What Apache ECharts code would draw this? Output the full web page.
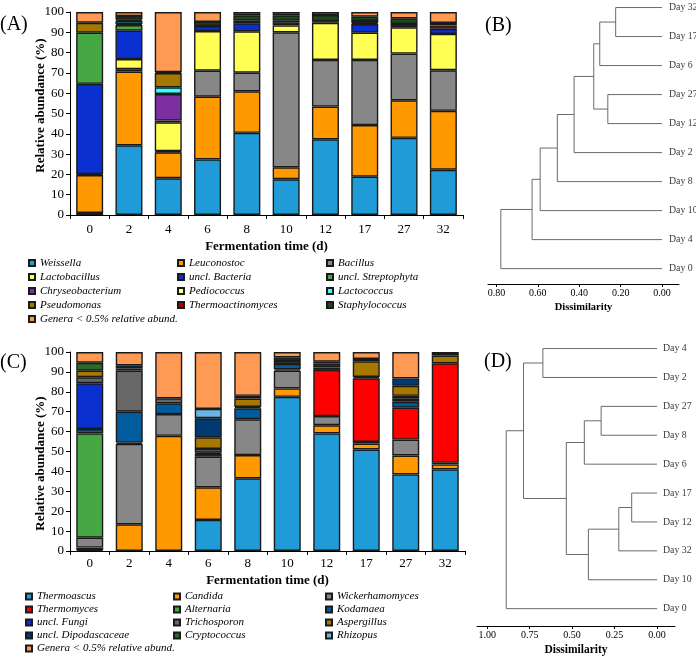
<!DOCTYPE html>
<html><head><meta charset="utf-8">
<script src="https://cdn.jsdelivr.net/npm/echarts@6/dist/echarts.min.js"></script>
<style>html,body{margin:0;padding:0;background:#fff}#c{width:696px;height:657px}</style>
</head><body><div id="c"></div>
<script>
// ---------- DATA ----------
const days = ['0','2','4','6','8','10','12','17','27','32'];
const yTicks = [0,10,20,30,40,50,60,70,80,90,100];

// (A) bacteria, relative abundance (%)
const weissella         = [1.0,34.3,18.1,27.4,40.5,17.6,37.3,18.9,38.0,22.3];
const leuconostoc       = [18.7,36.3,12.8,30.9,20.4,5.9,16.1,25.4,18.5,29.0];
const bacillus          = [0.4,1.2,0.5,12.8,9.2,66.5,23.0,32.1,23.0,20.0];
const lactobacillus     = [0,5.0,14.3,19.5,20.4,3.4,18.3,13.4,13.0,17.9];
const unclBacteria      = [44.5,14.0,0.8,2.5,3.9,1.5,0,4.3,1.6,2.5];
const unclStreptophyta  = [25.2,2.8,0,0,1.3,0.8,0,0.5,0,0];
const chryseobacterium  = [0,0,13.1,0,0,0,0,0,0,0];
const pediococcus       = [0,0.5,0,0,0,0,0,0,0,0];
const lactococcus       = [0,1.5,3.3,0,0,0,0,0,0,0];
const pseudomonas       = [4.9,0.6,7.0,0,0,0,0,0,0,0];
const thermoactinomyces = [0,0,0,0,0,0,0.8,1.0,0,1.7];
const staphylococcus    = [0,1.8,0.5,2.0,2.7,2.7,3.0,2.1,2.8,1.2];
const bacOther          = [5.3,2.0,29.6,4.9,1.6,1.6,1.5,2.3,3.1,5.4];

// (C) fungi, relative abundance (%)
const thermoascus       = [0.5,0,0,15.6,36.5,77.5,59.1,51.0,38.5,41.0];
const candida           = [1.2,13.4,57.9,16.4,11.7,4.2,4.1,3.0,9.5,2.5];
const wickerhamomyces   = [5.0,40.4,10.9,15.4,18.0,8.9,4.6,0.8,8.0,0.8];
const thermomyces       = [0,0,0,0,0,0.7,23.2,32.0,16.0,50.0];
const alternaria        = [52.4,0.7,0,0,0,0,0,0,0,0];
const kodamaea          = [2.2,15.5,5.4,1.5,5.5,2.7,0,0.7,3.0,0];
const unclFungi         = [23.0,0,0,0.5,0.7,0,0,0,1.5,0];
const trichosporon      = [3.0,20.6,2.5,1.9,0,0,0,0,1.5,0];
const aspergillus       = [3.3,1.2,0,5.8,4.2,1.5,1.2,7.8,5.0,3.9];
const unclDipodascaceae = [0,1.5,0,9.6,1.4,1.8,2.0,1.2,3.7,0.8];
const cryptococcus      = [4.0,0,0,0,0,0,0.9,0,0,0];
const rhizopus          = [0,0,0,4.7,0,0,0,0,0,0];
const fungOther         = [5.4,6.7,23.3,28.6,22.0,2.7,4.9,3.5,13.3,1.0];

// Dendrograms: [childA, childB, dissimilarity]; 'cN' = N-th merge
const mergesB = [
  ['Day 32','Day 17',0.224],
  ['c1','Day 6',0.301],
  ['Day 27','Day 12',0.262],
  ['c2','c3',0.330],
  ['c4','Day 2',0.425],
  ['c5','Day 8',0.506],
  ['c6','Day 10',0.589],
  ['c7','Day 4',0.628],
  ['c8','Day 0',0.779]
];
const mergesD = [
  ['Day 4','Day 2',0.672],
  ['Day 27','Day 8',0.329],
  ['c2','Day 6',0.428],
  ['Day 17','Day 12',0.149],
  ['c4','Day 32',0.225],
  ['c5','Day 10',0.404],
  ['c3','c6',0.534],
  ['c1','c7',0.786],
  ['c8','Day 0',0.888]
];
const ticksB = [0,0.2,0.4,0.6,0.8];
const ticksD = [0,0.25,0.5,0.75,1.0];

// ---------- BUILD ----------
const FONT = 'Liberation Serif';
const bacteria = [
  ['Weissella', weissella, '#1f9bd7'],
  ['Leuconostoc', leuconostoc, '#ff9900'],
  ['Bacillus', bacillus, '#878787'],
  ['Lactobacillus', lactobacillus, '#ffff55'],
  ['uncl. Bacteria', unclBacteria, '#0a30d0'],
  ['uncl. Streptophyta', unclStreptophyta, '#46a843'],
  ['Chryseobacterium', chryseobacterium, '#7b2fa0'],
  ['Pediococcus', pediococcus, '#ffff99'],
  ['Lactococcus', lactococcus, '#33ffff'],
  ['Pseudomonas', pseudomonas, '#a67800'],
  ['Thermoactinomyces', thermoactinomyces, '#b00000'],
  ['Staphylococcus', staphylococcus, '#1a4d1a'],
  ['Genera < 0.5% relative abund.', bacOther, '#ff9a55']
];
const fungi = [
  ['Thermoascus', thermoascus, '#1f9bd7'],
  ['Candida', candida, '#ff9900'],
  ['Wickerhamomyces', wickerhamomyces, '#878787'],
  ['Thermomyces', thermomyces, '#ff0000'],
  ['Alternaria', alternaria, '#46a843'],
  ['Kodamaea', kodamaea, '#005c9c'],
  ['uncl. Fungi', unclFungi, '#0a30d0'],
  ['Trichosporon', trichosporon, '#676767'],
  ['Aspergillus', aspergillus, '#a67800'],
  ['uncl. Dipodascaceae', unclDipodascaceae, '#003a70'],
  ['Cryptococcus', cryptococcus, '#2b6a2b'],
  ['Rhizopus', rhizopus, '#6ab4e6'],
  ['Genera < 0.5% relative abund.', fungOther, '#ff9a55']
];

function barSeries(list, axis, stack) {
  return list.map(([name, data, color]) => ({
    type: 'bar', name, stack, xAxisIndex: axis, yAxisIndex: axis,
    barWidth: 27,
    data: data.map(v => v > 0 ? v : '-'),
    itemStyle: { color, borderColor: '#1a1a1a', borderWidth: 1.4 },
    silent: true
  }));
}

function dendro(merges) {
  const nodes = {};
  merges.forEach((m, i) => { nodes['c' + (i + 1)] = m; });
  let counter = merges.length;
  const pos = {};
  function visit(id) {
    if (nodes[id]) {
      const [a, b, h] = nodes[id];
      visit(a); visit(b);
      pos[id] = { x: h, y: (pos[a].y + pos[b].y) / 2 };
    } else {
      pos[id] = { x: 0, y: counter-- };
    }
  }
  visit('c' + merges.length);
  const lines = merges.map(([a, b, h]) => ({
    coords: [[pos[a].x, pos[a].y], [h, pos[a].y], [h, pos[b].y], [pos[b].x, pos[b].y]]
  }));
  const leaves = Object.keys(pos).filter(k => !nodes[k]).map(k => [0, pos[k].y, k]);
  return { lines, leaves };
}
const dB = dendro(mergesB), dD = dendro(mergesD);

function legendCols(list, lefts, top, lh) {
  const names = list.map(d => d[0]);
  return lefts.map((left, c) => ({
    orient: 'vertical', left, top, padding: 0, itemGap: 0,
    itemWidth: 6, itemHeight: 6, icon: 'rect', selectedMode: false,
    data: names.filter((n, i) => i % 3 === c),
    textStyle: { fontFamily: FONT, fontStyle: 'italic', fontSize: 11, lineHeight: lh, color: '#000' }
  }));
}

function catX(grid, margin, gap) {
  return {
    type: 'category', gridIndex: grid, data: days,
    axisLine: { lineStyle: { color: '#000', width: 1 } },
    axisTick: { show: true, length: 4, lineStyle: { color: '#000' } },
    axisLabel: { fontFamily: FONT, fontSize: 13, color: '#000', margin },
    name: 'Fermentation time (d)', nameLocation: 'middle', nameGap: gap, nameMoveOverlap: false,
    nameTextStyle: { fontFamily: FONT, fontWeight: 'bold', fontSize: 13, color: '#000' }
  };
}
function pctY(grid, pad) {
  return {
    type: 'value', gridIndex: grid, min: yTicks[0], max: yTicks[yTicks.length - 1], interval: 10,
    axisLine: { show: true, lineStyle: { color: '#000', width: 1 } },
    axisTick: { show: true, length: 4, lineStyle: { color: '#000' } },
    splitLine: { show: false },
    axisLabel: { fontFamily: FONT, fontSize: 13, color: '#000', margin: 6 },
    name: 'Relative abundance (%)', nameLocation: 'middle', nameGap: 23, nameMoveOverlap: false,
    nameTextStyle: { fontFamily: FONT, fontWeight: 'bold', fontSize: 13, color: '#000', padding: pad }
  };
}
function dendX(grid, min, max, ticks, titleSize, gap) {
  return {
    type: 'value', gridIndex: grid, inverse: true, min, max,
    axisLine: { show: true, onZero: false, lineStyle: { color: '#000', width: 1 } },
    axisTick: { show: true, length: 3, customValues: ticks, lineStyle: { color: '#000' } },
    axisLabel: { customValues: ticks, formatter: v => Number(v).toFixed(2), fontFamily: FONT, fontSize: 10, color: '#000', margin: 4 },
    splitLine: { show: false },
    name: 'Dissimilarity', nameLocation: 'middle', nameGap: gap, nameMoveOverlap: false,
    nameTextStyle: { fontFamily: FONT, fontWeight: 'bold', fontSize: titleSize, color: '#000' }
  };
}
function dendY(grid, min, max) {
  return { type: 'value', gridIndex: grid, min, max, show: false,
    axisLine: { onZero: false }, splitLine: { show: false } };
}
function dendSeries(d, axis, dist) {
  return [
    { type: 'lines', coordinateSystem: 'cartesian2d', xAxisIndex: axis, yAxisIndex: axis,
      polyline: true, silent: true, data: d.lines,
      lineStyle: { color: '#6a6a6a', width: 1, opacity: 1 } },
    { type: 'scatter', xAxisIndex: axis, yAxisIndex: axis, silent: true,
      symbolSize: 2, data: d.leaves, itemStyle: { color: 'rgba(0,0,0,0)' },
      label: { show: true, position: 'right', distance: dist, formatter: p => p.value[2],
        fontFamily: FONT, fontSize: 9.8, color: '#000' } }
  ];
}

const titleStyle = { fontFamily: FONT, fontSize: 20, fontWeight: 'normal', color: '#000' };
const option = {
  animation: false,
  backgroundColor: '#fff',
  title: [
    { text: '(A)', left: 0, top: 15, padding: 0, textStyle: titleStyle },
    { text: '(B)', left: 485, top: 16, padding: 0, textStyle: titleStyle },
    { text: '(C)', left: 0, top: 353, padding: 0, textStyle: titleStyle },
    { text: '(D)', left: 484, top: 352, padding: 0, textStyle: titleStyle }
  ],
  legend: [
    ...legendCols(bacteria, [28, 177, 326], 256, 14),
    ...legendCols(fungi, [25, 173, 325], 590, 13)
  ],
  grid: [
    { left: 70, top: 12, width: 393, height: 203 },
    { left: 70, top: 352, width: 395, height: 199 },
    { left: 488, top: 0, width: 191, height: 284 },
    { left: 477, top: 337, width: 198, height: 291 }
  ],
  xAxis: [
    catX(0, 8, 25), catX(1, 6, 23),
    dendX(2, -0.082, 0.841, ticksB, 10.5, 18),
    dendX(3, -0.106, 1.06, ticksD, 11.5, 18)
  ],
  yAxis: [ pctY(0, [0, 0, 0, 16]), pctY(1, [0, 24, 0, 0]), dendY(2, -0.53, 9.26), dendY(3, -0.6, 9.4) ],
  series: [
    ...barSeries(bacteria, 0, 'a'),
    ...barSeries(fungi, 1, 'c'),
    ...dendSeries(dB, 2, 6),
    ...dendSeries(dD, 3, 5)
  ]
};
const chart = echarts.init(document.getElementById('c'), null, { renderer: 'canvas' });
chart.setOption(option);
</script>
</body></html>
